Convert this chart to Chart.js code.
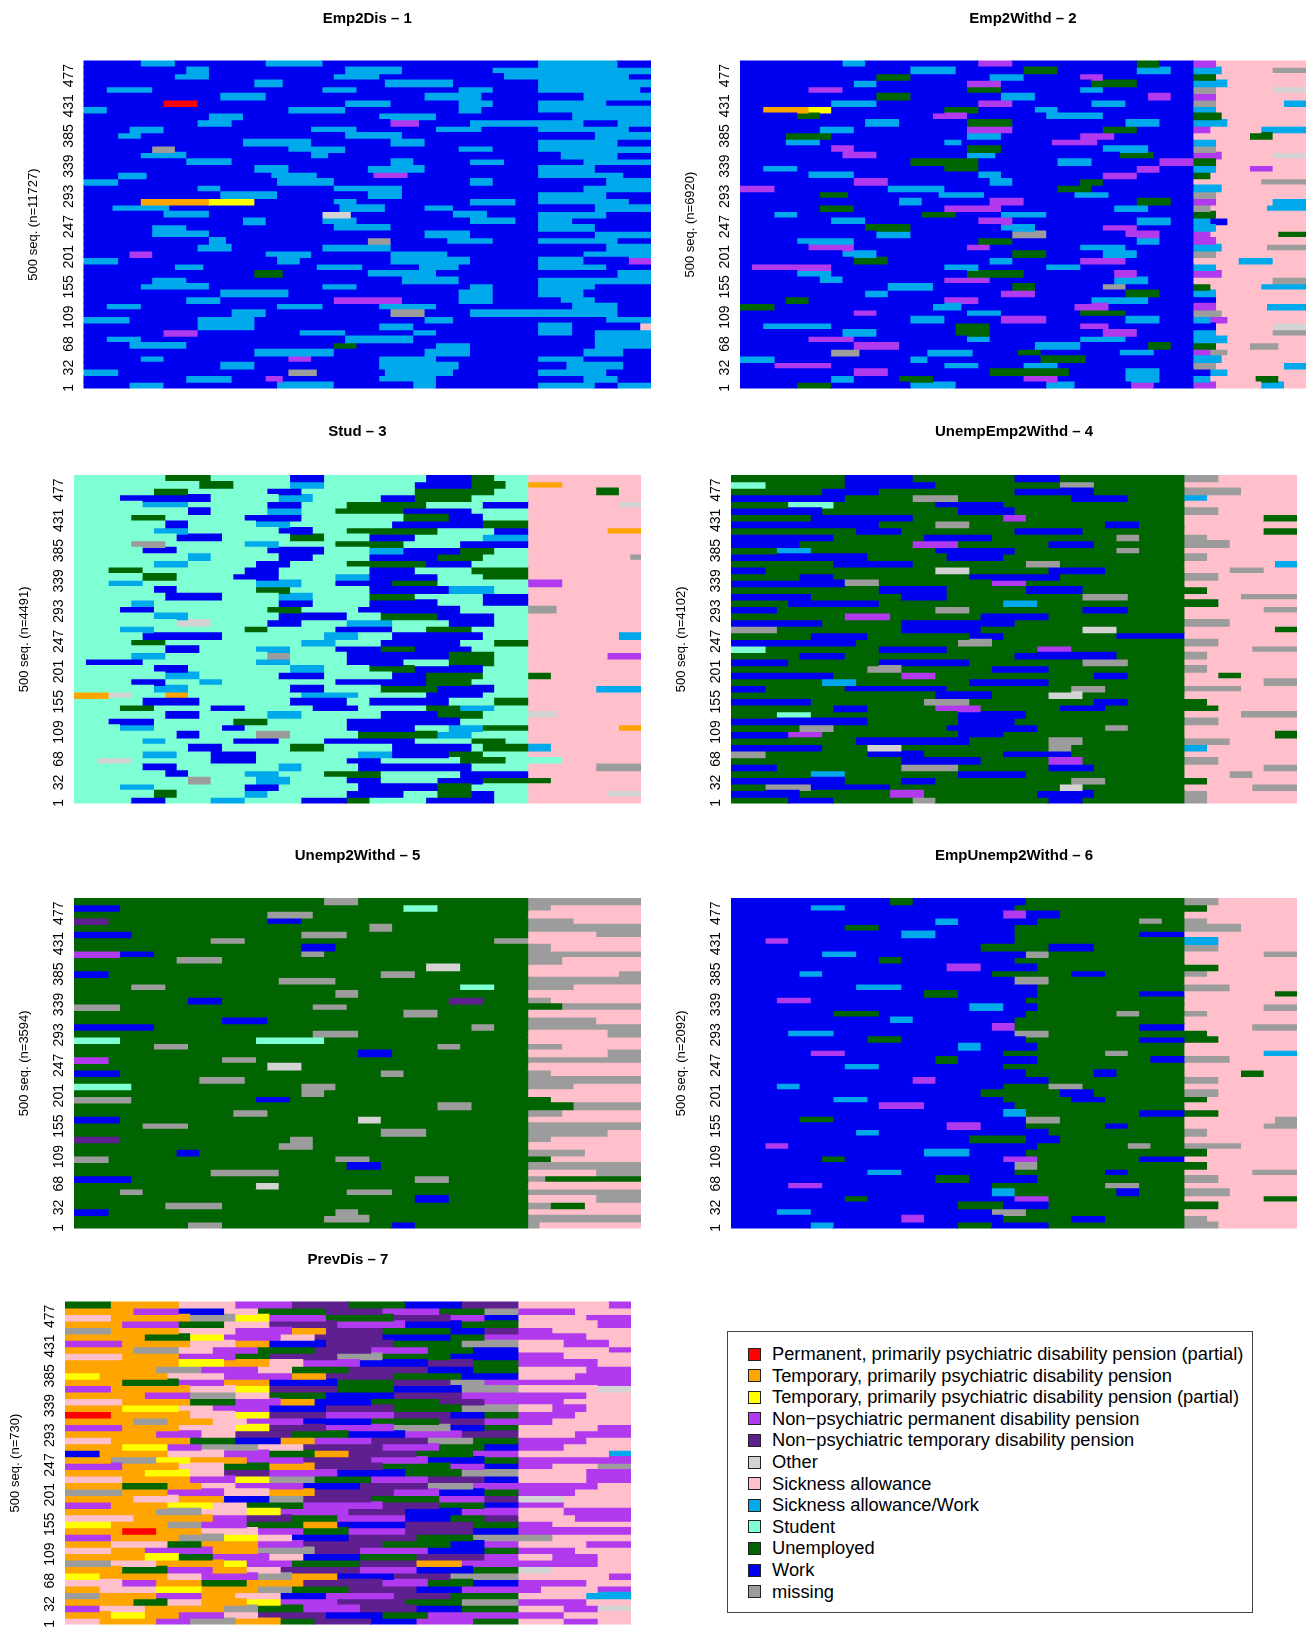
<!DOCTYPE html>
<html>
<head>
<meta charset="utf-8">
<script src="https://cdn.jsdelivr.net/npm/chart.js@4.4.1/dist/chart.umd.min.js"></script>
<style>
  html, body { margin: 0; padding: 0; background: #fff; }
  body { width: 1307px; height: 1636px; position: relative; overflow: hidden; font-family: "Liberation Sans", Arial, sans-serif; }
  .panel { position: absolute; }
  #legend { position: absolute; left: 727px; top: 1331px; width: 526px; height: 282px; border: 1px solid #444; box-sizing: border-box; }
  .sw { position: absolute; left: 20px; width: 11px; height: 11px; border: 1px solid #222; }
  .lab { position: absolute; left: 44px; font-size: 18.3px; line-height: 20px; white-space: nowrap; color: #000; }
</style>
</head>
<body>
<div id="legend"></div>
<script>
// states, in legend order
const stateCodes = ["R", "O", "Y", "P", "D", "T", "S", "H", "A", "U", "W", "M"];
const stateLabels = [
    "Permanent, primarily psychiatric disability pension (partial)",
    "Temporary, primarily psychiatric disability pension",
    "Temporary, primarily psychiatric disability pension (partial)",
    "Non\u2212psychiatric permanent disability pension",
    "Non\u2212psychiatric temporary disability pension",
    "Other",
    "Sickness allowance",
    "Sickness allowance/Work",
    "Student",
    "Unemployed",
    "Work",
    "missing"
];
const stateColors = ["#ff0000", "#ffa500", "#ffff00", "#b23aee", "#5e1f8f", "#d3d3d3",
                     "#ffc0cb", "#00a8ec", "#7fffd4", "#006400", "#0000f0", "#9c9c9c"];

const tickValues = [1, 32, 68, 109, 155, 201, 247, 293, 339, 385, 431, 477];
const panelTitles = ["Emp2Dis \u2013 1", "Emp2Withd \u2013 2", "Stud \u2013 3", "UnempEmp2Withd \u2013 4",
                     "Unemp2Withd \u2013 5", "EmpUnemp2Withd \u2013 6", "PrevDis \u2013 7"];
const panelCounts = [11727, 6920, 4491, 4102, 3594, 2092, 730];
const seqPerRow = 10;

// one string per block of 10 sequences, bottom to top; runs of state + length (time 0-100)
const emp2DisRows = [
    "W8 H6 W20 H10 W14 H4 W18 / H10 W4 H6", "W18 H8 W6 P3 W17 H10 W18 / W8 H6 W6", "H6 W30 M5 W12 H12 W15 / H12 W8",
    "W24 H6 W22 H14 W14 / W5 H10 W5", "W10 H4 W22 P4 W12 H10 W18 / H8 W12", "W30 H14 W16 H8 W12 / W8 H7 W5",
    "W8 H10 W26 U4 W14 H6 W12 / W10 H10", "W4 H6 W36 H12 W22 / W10 H10", "W14 P6 W18 H8 W12 H4 W18 / H6 W4 H10",
    "W20 H10 W22 H6 W22 / H6 W12 S2", "H8 W12 H10 W30 H5 W15 / W12 H8", "W26 H6 W22 M6 W8 H12 / H14 W6",
    "W4 H6 W24 H8 W10 H10 W18 / W6 H8 W6", "W18 H6 W20 P12 W10 H6 W8 / W4 H6 W10", "W24 H12 W30 H6 W8 / H8 W12",
    "W10 H12 W20 H6 W20 H4 W8 / H10 W10", "W12 H6 W38 H10 W14 / H20", "W30 U5 W15 H12 W18 / W14 H6",
    "W16 H5 W20 H8 W10 H7 W14 / H12 W8", "H6 W28 H4 W16 H14 W12 / H8 W8 P4", "W8 P4 W20 H8 W14 H10 W16 / W8 H12",
    "W20 H6 W16 H12 W26 / W12 H8", "W22 H3 W25 M4 W10 H8 W8 / H14 W6", "W12 H10 W38 H8 W12 / W10 H10",
    "W12 H6 W26 H10 W26 / H10 W10", "W28 H4 W10 H6 W20 H8 W4 / H6 W14", "W14 H8 W20 T5 W18 H6 W9 / H12 W8",
    "W5 H10 W30 H8 W7 H5 W15 / W10 H10", "W10 O12 Y8 W14 H4 W20 H8 W4 / H16 W4", "W24 H10 W16 H6 W24 / H12 W8",
    "W20 H4 W20 H12 W24 / W8 H12", "H6 W28 H10 W24 H4 W8 / W12 H8", "W6 H5 W22 H8 W10 P6 W23 / H15 W5",
    "W30 H6 W14 H10 W20 / H10 W10", "W18 H8 W28 H4 W10 H6 W6 / W8 H12", "W10 H8 W22 H3 W37 / W4 H10 W6",
    "W12 M4 W20 H10 W20 H6 W8 / H20", "W28 H12 W14 H6 W20 / H14 W6", "W6 H4 W36 H10 W24 / W10 H10",
    "W8 H6 W26 H8 W14 H8 W10 / H16 W4", "W20 H6 W28 P5 W9 H12 / H8 W6 H6", "W22 H6 W24 H10 W18 / W6 H14",
    "H4 W32 H10 W20 H4 W10 / H20", "W14 R6 W26 H8 W12 H6 W8 / H12 W8", "W24 H8 W28 H10 W10 / W8 H12",
    "W4 H8 W30 H6 W18 H6 W8 / H18 W2", "W30 H5 W18 H12 W15 / H20", "W16 H6 W22 H8 W22 H6 / H16 W4",
    "W18 H4 W24 H10 W16 H8 / H20", "W10 H6 W16 H10 W38 / H14 W6"
];
const emp2WithdRows = [
    "W10 U6 W14 H8 W16 H5 W10 P4 W7 / P4 S8 H4 S4", "W16 H4 W8 U6 W16 P6 W12 H6 W6 / H3 S8 U4 S5", "W20 P6 W18 U14 W10 H6 W6 / W3 H3 S14",
    "W6 P10 W20 H6 W8 H6 W24 / M4 S12 H4", "H6 W24 H3 W20 U8 W19 / H5 S15", "W16 M5 W12 H8 W8 U4 W14 H6 W7 / P3 M3 S14",
    "W20 P8 W24 H8 W12 U4 W4 / U4 S6 M5 S5", "W12 P8 W20 H4 W16 H8 W12 / H6 S14", "W18 H6 W14 U6 W20 P6 W10 / H4 S10 M6",
    "W4 H12 W22 U6 W16 P5 W15 / W4 S10 T6", "W30 H6 W10 P8 W14 H6 W6 / H3 P3 S14", "W20 P4 W16 H6 W14 U8 W12 / M5 S15",
    "U6 W28 H5 W20 P6 W15 / P4 S9 H7", "W8 U4 W24 P6 W20 H10 W8 / W4 S16", "W22 H4 W20 P6 W16 U6 W6 / H4 S16",
    "W26 H8 W14 U4 W12 M4 W12 / U3 S9 H8", "W14 H4 W18 P8 W22 H6 W8 / S14 M6", "W10 H6 W24 U10 W16 P4 W10 / P5 S15",
    "W2 P14 W20 H6 W12 H6 W20 / H4 S16", "W20 U6 W18 H4 W12 P8 W12 / S8 H6 S6", "W18 H6 W24 U6 W10 H6 W10 / M4 S16",
    "W12 P8 W20 P4 W16 H8 W12 / H5 S8 M7", "W10 H10 W22 U6 W22 H4 W6 / P4 S16", "W24 H6 W18 M6 W14 P6 W6 / P3 S12 U5",
    "W22 U8 W16 H6 W12 P6 W10 / H4 S16", "W16 H6 W20 P6 W22 H6 W4 / H3 W3 S14", "W6 H4 W22 U6 W8 H8 W26 / U4 S16",
    "W14 U6 W16 P10 W20 H6 W8 / M3 S10 H7", "W28 H4 W12 P6 W20 U6 W4 / P4 S10 H6", "W14 U5 W16 H8 W16 H6 W15 / M4 S16",
    "P6 W20 H10 W20 U6 W18 / H5 S15", "W20 P6 W18 H4 W12 U4 W16 / S12 M8", "W12 H8 W22 H4 W18 P6 W10 / U3 S17",
    "W4 H6 W26 U6 W28 P4 W6 / H4 S6 P4 S6", "W30 U12 W14 H6 W12 P6 / U4 S16", "W18 P6 W16 H5 W22 U6 W7 / P5 S9 T6",
    "W16 P4 W20 U6 W18 H8 W8 / M4 S16", "W8 H6 W22 H3 W16 P8 W17 / H4 S16", "W8 U8 W24 H6 W14 P6 W14 / S10 U4 S6",
    "W14 H6 W20 P8 W16 U6 W10 / P3 S9 H8", "W22 H6 W12 U8 W20 H6 W6 / H6 S14", "W10 U4 W20 P6 W14 H10 W16 / U5 S15",
    "W4 O8 Y4 W20 U6 W10 H4 W24 / H4 S16", "W16 H8 W18 P6 W14 H6 W12 / M4 S12 H4", "W24 U6 W16 H6 W20 P4 W4 / P4 S16",
    "W12 P6 W22 U6 W14 H4 W16 / M4 S10 T6", "W20 H4 W16 P6 W16 U8 W10 / H6 S14", "W24 U6 W14 H6 W10 P4 W16 / U4 S16",
    "W30 H8 W12 U6 W14 H6 W4 / H5 S9 M6", "W18 H4 W20 P6 W22 U4 W6 / P4 S16"
];
const studRows = [
    "A10 W6 A8 H6 A10 W8 U4 A10 W12 A6 / S20", "A14 U4 A12 H4 A14 W10 A6 U6 W4 A6 / S14 T6", "A8 H6 A16 W6 A14 W14 U6 A10 / S20",
    "A20 M4 A8 H6 A10 W6 A10 W8 U8 / U4 S16", "A16 W4 A10 H6 A8 U10 A14 W12 / S20", "A12 W6 A18 H4 A10 W20 A10 / S12 M8",
    "A4 T6 A14 W8 A16 W6 A14 U8 A10 / S20", "A12 H6 A6 W8 A18 H6 W10 U6 A8 / S20", "A20 W6 A12 U6 A12 W14 A2 U8 / H4 S16",
    "A12 H4 A12 W8 A8 W16 A10 U6 A4 / S20", "A18 W4 A10 M6 A12 U14 H6 A10 / S20", "A8 H6 A12 W4 A18 W12 A6 H6 U8 / S16 O4",
    "A6 W8 A14 U6 A14 W20 A12 / S20", "A16 W6 A12 H6 A14 W10 U8 A8 / T5 S15", "A8 U6 A10 W6 A12 W8 A12 U6 H6 A6 / S20",
    "A12 W10 A16 W10 A4 W14 A8 U6 / S20", "O6 T4 A6 O4 A20 H10 A12 W10 A8 / S20", "A14 H6 A18 W6 A10 U10 W10 A6 / S12 H8",
    "A10 W6 A6 H4 A20 W16 U8 A10 / S20", "A16 H6 A14 W8 A12 W6 U10 A8 / U4 S16", "A14 W6 A18 H6 A8 U8 W12 A8 / S20",
    "A2 W10 A20 H6 A10 W10 A8 U8 A6 / S20", "A10 H6 A18 M4 A10 W18 U8 A6 / S14 P6", "A16 W6 A10 H6 A8 W8 U6 W10 A10 / S20",
    "A10 U6 A24 H6 A8 W14 A6 U6 / S20", "A12 W14 A18 H6 A6 W16 A8 / S16 H4", "A8 H6 A16 U4 A12 W10 A6 U8 A10 / S20",
    "A18 T6 A10 W6 A8 H8 A10 W8 A6 / S20", "A14 H6 A16 W12 A6 U10 W10 A6 / S20", "A8 W6 A20 U6 A10 W18 A12 / M5 S15",
    "A10 H4 A22 W6 A10 W12 A8 W8 / S20", "A16 W10 A10 H6 A10 U8 A12 W8 / S20", "A14 W4 A14 U6 A14 W14 H8 A6 / S20",
    "A6 H6 A20 H8 A6 W10 U8 A16 / P6 S14", "A12 U6 A10 W8 A10 H6 W12 A8 U8 / S20", "A6 U6 A18 W6 A16 W8 A10 U10 / S20",
    "A14 H6 A12 W6 A10 U14 W8 A10 / S20", "A20 H4 A12 W6 A10 W12 U8 A8 / S18 M2", "A12 W6 A16 W10 A8 H6 W10 U6 A6 / S20",
    "A10 M6 A14 H6 A10 U12 A10 W12 / S20", "A18 W8 A12 U6 A8 W8 A12 H8 / S20", "A14 H6 A16 W6 A6 U16 A10 W6 / S14 O6",
    "A16 W4 A12 H6 A18 W16 U8 / S20", "A10 U6 A14 W10 A18 U8 W6 A8 / S20", "A20 W4 A10 H6 A6 U12 W12 A10 / S20",
    "A12 H8 A14 W6 A8 U14 A10 W8 / S16 T4", "A8 W16 A12 H6 A12 W6 U10 A10 / S20", "A14 U6 A14 W6 A20 U14 A6 / S12 U4 S4",
    "A22 U6 A10 H6 A16 W10 U6 A4 / O6 S14", "A16 U8 A14 W6 A18 W8 U4 A6 / S20"
];
const unempEmp2WithdRows = [
    "U10 W8 U14 M4 U20 W6 U18 / M4 S16", "W12 U16 P6 U20 W10 U16 / M4 S16", "U6 M8 W14 U30 T4 U18 / S12 M8",
    "W20 U10 W6 U24 M6 U14 / U4 S16", "U14 H6 U20 W12 U28 / S8 M4 S8", "W8 U22 M10 U16 W8 U16 / S14 M6",
    "U30 W14 U12 P6 U18 / M6 S14", "M6 U18 W10 U14 W12 U20 / S20", "W16 U8 T6 U26 M4 U20 / H4 S16",
    "U22 W20 U14 M6 U18 / M8 S12", "W10 P6 U24 W8 U32 / S16 U4", "U12 M6 U20 W16 U12 M4 U10 / S20",
    "W24 U16 W10 U30 / M6 S14", "U8 A6 U26 W12 U28 / S10 M10", "U18 W6 U12 P8 U14 W8 U14 / U6 S14",
    "W14 U20 M8 U22 W6 U10 / U4 S16", "U36 W10 U10 T6 U18 / S20", "W6 U14 W18 U22 M6 U14 / M10 S10",
    "U16 H6 U20 W14 U24 / S14 M6", "W18 U12 P6 U28 W6 U10 / S6 U4 S10", "U24 M6 U16 W10 U24 / M4 S16",
    "W10 U16 W16 U20 M8 U10 / S20", "U12 W8 U30 W18 U12 / M4 S16", "A6 U20 W12 U16 P6 U20 / S12 M8",
    "W22 U18 M6 U34 / M6 S14", "U14 W10 U18 W6 U20 W12 / S20", "M8 U22 W14 U18 T6 U12 / S16 U4",
    "W16 U14 W20 U30 / M8 S12", "U20 P8 U16 W12 U24 / S20", "W8 U28 M6 U20 W8 U10 / S14 M6",
    "U10 W16 U22 H6 U26 / U6 S14", "W14 U16 W8 U24 M8 U10 / S10 M10", "U26 W12 U14 W10 U18 / U4 S16",
    "W20 M6 U20 P6 U28 / S20", "U12 W6 U24 W16 U22 / M6 S14", "W6 U30 T6 U14 W10 U14 / S8 M6 S6",
    "U18 W14 U20 M6 U22 / S16 H4", "W24 U14 W10 U32 / M4 S16", "U8 H6 U22 W14 U18 M4 U8 / S20",
    "W12 U20 P8 U16 W8 U16 / M8 S12", "W18 U16 W12 U22 M4 U8 / M4 S16", "U22 W8 U20 W12 U18 / S14 U6",
    "W26 U10 M6 U24 W6 U8 / S20", "U14 W18 U16 P4 U28 / S14 U6", "W16 U24 W10 U30 / M6 S14",
    "U10 A8 U18 W12 U32 / S20", "W20 U12 M8 U20 W10 U10 / H4 S16", "U16 W10 U24 W14 U16 / M10 S10",
    "A6 U14 W16 U22 M6 U16 / S20", "U20 W12 U18 W8 U22 / M6 S14"
];
const unemp2WithdRows = [
    "U20 M6 U30 W4 U20 / M2 S18", "U44 M8 U28 / M20", "W6 U40 M4 U30 / S20",
    "U16 M10 U54 / M4 U6 S10", "U60 W6 U14 / S12 M8", "U8 M4 U36 M8 U24 / M20",
    "U32 T4 U44 / S20", "W10 U50 M6 U14 / M3 U17", "U24 M12 U44 / S12 M8",
    "U48 W6 U26 / M20", "M6 U40 M6 U28 / U4 S16", "U18 W4 U58 / M10 S10",
    "U36 M6 U38 / S20", "D8 U30 M4 U38 / M4 S16", "U54 M8 U18 / M14 S6",
    "U12 M8 U60 / M20", "W8 U42 T4 U26 / S20", "U28 M6 U46 / M6 S14",
    "U64 M6 U10 / U8 M12", "M10 U22 W6 U42 / U4 S16", "U40 M4 U36 / S20",
    "A10 U30 M6 U34 / M8 S12", "U22 M8 U50 / M20", "W8 U46 M4 U22 / M4 S16",
    "U34 T6 U40 / S20", "P6 U20 M6 U48 / M20", "U50 W6 U24 / S14 M6",
    "U14 M6 U44 M4 U12 / M6 S14", "A8 U24 A12 U36 / S20", "U42 M8 U30 / S14 M6",
    "W14 U56 M4 U6 / M20", "U26 W8 U46 / M12 S8", "U58 M6 U16 / S20",
    "M8 U34 M6 U32 / U6 M14", "U20 W6 U40 D6 U8 / M4 S16", "U46 M4 U30 / S20",
    "U10 M6 U52 A6 U6 / M8 S12", "U36 M10 U34 / M20", "W6 U48 M6 U20 / S16 M4",
    "U62 T6 U12 / S20", "U18 M8 U54 / M6 S14", "P8 W6 U26 M4 U36 / M20",
    "U40 W6 U34 / M4 S16", "U24 M6 U44 M6 / S20", "W10 U30 M8 U32 / S12 M8",
    "U52 M4 U24 / M20", "D6 U28 W6 U40 / M8 S12", "U34 M8 U38 / S20",
    "W8 U50 A6 U16 / M4 S16", "U44 M6 U30 / M20"
];
const empUnemp2WithdRows = [
    "W14 H4 W22 U6 W10 U24 / M6 S14", "W30 P4 W14 U12 W6 U14 / M4 S16", "W8 H6 W32 M6 U28 / S20",
    "W40 U8 W8 U24 / U6 S14", "W20 U4 W26 P6 U24 / S14 U6", "W46 H4 U18 W4 U8 / M8 S12",
    "W10 P6 W30 U20 M6 U8 / S20", "W36 U6 W12 U26 / M6 S14", "W24 H6 W20 U16 W4 U10 / S12 M8",
    "W50 M4 U26 / U4 S16", "W16 U4 W28 P6 U18 W8 / S20", "W34 H8 W10 U28 / U4 S16",
    "W6 P4 W44 U16 M4 U6 / M10 S10", "W42 U10 W6 U22 / S20", "W22 H4 W30 U24 / M4 S16",
    "W38 P6 W8 U14 W4 U10 / S14 M6", "W12 U6 W34 M6 U22 / S16 M4", "W48 H4 U20 W8 / U6 S14",
    "W26 P8 W16 U30 / S20", "W18 H6 W24 U12 W6 U14 / U4 S16", "W44 U14 W6 U16 / M6 S14",
    "W8 H4 W36 U8 M6 U18 / S20", "W32 P4 W20 U24 / M6 S14", "W52 U12 W4 U12 / S10 U4 S6",
    "W20 H6 W22 U32 / S20", "W36 U4 W14 U20 W6 / M8 S12", "W14 P6 W28 U18 M4 U10 / S14 H6",
    "W40 H4 W10 U26 / S20", "W24 U6 W22 U20 W8 / U6 S14", "W10 H8 W32 M6 U24 / U4 S16",
    "W46 P4 U22 W8 / S12 M8", "W28 H4 W18 U30 / S20", "W18 U8 W26 U16 M4 U8 / M4 S16",
    "W42 H6 W6 U26 / S14 M6", "W8 P6 W38 U28 / S20", "W34 U6 W14 U18 W8 / S16 U4",
    "W22 H8 W24 U26 / M8 S12", "W50 M6 U24 / S20", "W12 H4 W30 U14 W6 U14 / M4 S16",
    "W38 P6 W10 U26 / U6 S14", "W26 U4 W20 U30 / S20", "W16 H6 W30 M4 U24 / S14 M6",
    "W44 U12 W8 U16 / M6 S14", "W6 P4 W40 U30 / H6 S14", "W30 H6 W14 U22 W8 / S20",
    "W20 U6 W24 U30 / M10 S10", "W36 H4 W14 U18 M4 U4 / M4 S16", "W48 P4 W6 U22 / S20",
    "W14 H6 W30 U30 / U4 S16", "W28 U4 W20 U28 / M6 S14"
];
const prevDisRows = [
    "S6 O10 P6 M8 O8 U6 D10 W8 P10 U8 / S8 P6 S6", "O8 Y6 O6 P8 S6 D12 W10 U8 P16 / P8 S12", "P6 S8 O14 M6 U8 P10 D10 W8 U10 / S8 P6 T6",
    "O12 U6 S6 O8 Y6 P10 D12 U10 M10 / P12 S8", "M6 O10 P8 O6 S8 W8 P12 D10 U12 / S12 H8", "O6 S10 Y8 O10 M6 U10 D12 W8 P10 / P4 S10 P6",
    "S10 P6 O8 U8 O10 D14 P8 U8 W8 / P12 S8", "Y6 O12 S6 P10 M6 O8 W10 D10 M12 / S16 P4", "O10 U8 P8 O6 S6 D14 P10 W10 U8 / T6 S14",
    "M8 S8 O12 Y4 P8 U12 D10 O8 P10 / P14 S6", "O14 Y6 U6 P10 S6 W10 U10 D12 P6 / S6 P8 S6", "S8 O6 P12 O8 M10 D8 P12 W10 U6 / P10 S10",
    "O8 S10 U6 O10 P8 D14 U12 W6 P6 / S12 P8", "P8 O12 M8 Y6 S6 W10 D12 U10 M8 / M6 S14", "O10 R6 O8 S10 P8 U8 P10 D12 W8 / P20",
    "Y8 O10 M6 P8 U10 O6 W12 D12 U8 / P6 S14", "S12 O14 P6 D8 U8 P12 W8 U6 D6 / S10 P10", "O16 M8 S8 Y6 P12 D10 W10 P10 / S8 P12",
    "P8 O10 Y8 S6 U10 P14 D10 U8 W6 / P8 S12", "O12 S8 O8 W8 M6 D12 U12 P8 D6 / T8 S12", "M10 O8 P10 S8 O8 D14 P8 W8 U6 / P10 S10",
    "O10 U8 O6 S6 P12 W10 D12 M8 P8 / P14 S6", "S10 O12 P8 Y6 M8 U10 P10 D10 W6 / S12 P8", "O14 Y8 S6 D8 P12 W12 U10 M10 / S12 P8",
    "P10 O10 S8 U8 O8 D12 U12 P6 W6 / P6 S8 M6", "O8 M8 Y6 O10 P10 D12 P10 W10 U6 / P20", "W6 O12 S10 P8 U8 O6 D12 U10 P8 / S16 H4",
    "O10 Y8 P6 M10 S8 D14 P10 U8 W6 / P8 S12", "S8 O14 U8 W8 O6 P10 D10 M8 U8 / P12 S8", "O16 P8 S6 D10 U10 W10 P10 D10 / S10 P10",
    "P10 O10 S10 Y6 D10 P12 M10 W6 U6 / S14 P6", "O12 M6 O8 S6 P10 W12 U12 D8 P6 / P6 S14", "R8 O14 S8 Y6 D10 P12 D10 W6 U6 / P10 S10",
    "O10 Y10 S6 P10 W10 D12 U12 M10 / S6 P6 S8", "S10 O12 U8 P8 O6 W10 U12 D8 P6 / P8 S12", "O14 P8 M8 S6 U10 W12 D12 P10 / P12 S8",
    "P8 O14 S8 Y6 D12 U10 W12 M10 / S14 T6", "O10 U10 P8 O8 W12 U10 D10 M6 P6 / P20", "Y6 O12 S10 P12 O6 D12 U12 W10 / S10 P10",
    "O16 M8 P10 S6 U10 D14 W8 U8 / S12 P8", "O20 Y8 O8 S6 P10 W12 D8 U8 / P14 S6", "S10 O10 P10 U6 D12 M8 U12 W12 / P8 S12",
    "O12 M8 S6 P8 U10 D10 P10 U8 W8 / S16 P4", "P10 O12 S8 O6 W10 D12 U12 M10 / S8 P8 S4", "O14 U8 Y6 P10 S6 D12 W12 U6 P6 / P12 S8",
    "M8 O12 S10 P10 O6 D10 U12 W6 D6 / P6 S14", "O10 P10 U8 S8 D12 P12 W10 U10 / S14 P6", "S8 O14 M8 Y6 P10 U12 D10 P6 W6 / S12 P8",
    "O12 P8 W8 S6 U12 D10 P10 U8 M6 / P10 S10", "U8 O12 S10 P10 D10 U10 W10 D10 / S16 P4"
];

const panelRows = [emp2DisRows, emp2WithdRows, studRows, unempEmp2WithdRows,
                   unemp2WithdRows, empUnemp2WithdRows, prevDisRows];

// page placement of each panel: canvas box and plot area (page px)
const layouts = [
    { left: 0,   top: 0,    w: 660, h: 400, area: [83.5, 60.5, 651, 393.5],   titleY: 19 },
    { left: 660, top: 0,    w: 647, h: 400, area: [740, 60.5, 1306, 393.5],   titleY: 19 },
    { left: 0,   top: 410,  w: 660, h: 405, area: [74, 475, 641, 807],        titleY: 432 },
    { left: 660, top: 410,  w: 647, h: 405, area: [731, 475, 1297, 807],      titleY: 432 },
    { left: 0,   top: 830,  w: 660, h: 410, area: [74, 898, 641, 1232],       titleY: 856 },
    { left: 660, top: 830,  w: 647, h: 410, area: [731, 898, 1297, 1232],     titleY: 856 },
    { left: 0,   top: 1240, w: 660, h: 396, area: [65, 1301.5, 631, 1634.5],  titleY: 1260 }
];

Chart.defaults.font.family = '"Liberation Sans", Arial, Helvetica, sans-serif';
Chart.defaults.color = "#000";

function parseRow(str) {
    return str.split(/\s+/).filter(t => t && t !== "/").map(t => ({ st: t[0], len: Number(t.slice(1)) }));
}

function colorOf(code) {
    return stateColors[stateCodes.indexOf(code)];
}

function makePanel(idx) {
    const L = layouts[idx];
    const rows = panelRows[idx].map(parseRow);
    const relLeft = L.area[0] - L.left;
    const relTop = L.area[1] - L.top;
    const relRight = L.area[2] - L.left;
    const relBottom = L.area[3] - L.top;
    const titleRelY = L.titleY - L.top;

    const canvas = document.createElement("canvas");
    canvas.className = "panel";
    canvas.width = L.w;
    canvas.height = L.h;
    canvas.style.left = L.left + "px";
    canvas.style.top = L.top + "px";
    canvas.style.width = L.w + "px";
    canvas.style.height = L.h + "px";
    document.body.appendChild(canvas);

    const maxRuns = Math.max(...rows.map(r => r.length));
    const datasets = [];
    for (let k = 0; k < maxRuns; k++) {
        datasets.push({
            data: rows.map((runs, i) => ({
                y: i * seqPerRow + seqPerRow / 2,
                x: runs[k] ? runs[k].len : null
            })),
            backgroundColor: rows.map(runs => runs[k] ? colorOf(runs[k].st) : "rgba(0,0,0,0)"),
            borderWidth: 0,
            inflateAmount: 0.6,
            barPercentage: 1,
            categoryPercentage: 1
        });
    }

    new Chart(canvas, {
        type: "bar",
        data: { datasets },
        options: {
            indexAxis: "y",
            responsive: false,
            animation: false,
            events: [],
            layout: { padding: { left: 0, top: 0, right: L.w - relRight, bottom: L.h - relBottom } },
            plugins: {
                legend: { display: false },
                tooltip: { enabled: false },
                title: {
                    display: true,
                    text: panelTitles[idx],
                    fullSize: false,
                    color: "#000",
                    font: { size: 15, weight: "bold", lineHeight: 1.2 },
                    padding: { top: titleRelY - 9, bottom: relTop - (titleRelY - 9) - 18 }
                }
            },
            scales: {
                x: { type: "linear", min: 0, max: 100, stacked: true, display: false },
                y: {
                    type: "linear",
                    position: "left",
                    min: 0,
                    max: 500,
                    stacked: true,
                    offset: false,
                    afterBuildTicks: s => { s.ticks = tickValues.map(v => ({ value: v })); },
                    afterFit: s => { s.width = relLeft; },
                    grid: { display: false, drawTicks: false },
                    border: { display: false },
                    ticks: {
                        autoSkip: false,
                        font: { size: 14 },
                        color: "#000",
                        minRotation: 90,
                        maxRotation: 90,
                        crossAlign: "center",
                        padding: 3
                    },
                    title: {
                        display: true,
                        text: "500 seq. (n=" + panelCounts[idx] + ")",
                        color: "#000",
                        font: { size: 13, lineHeight: 1.2 },
                        padding: { top: relLeft - 50 - 7.8, bottom: 0 }
                    }
                }
            }
        }
    });
}

for (let i = 0; i < panelRows.length; i++) makePanel(i);

// legend box
const legendEl = document.getElementById("legend");
stateLabels.forEach((label, i) => {
    const cy = 22 + i * 21.6;
    const sw = document.createElement("div");
    sw.className = "sw";
    sw.style.top = (cy - 6.5) + "px";
    sw.style.background = stateColors[i];
    legendEl.appendChild(sw);
    const tx = document.createElement("div");
    tx.className = "lab";
    tx.style.top = (cy - 10) + "px";
    tx.textContent = label;
    legendEl.appendChild(tx);
});
</script>
</body>
</html>
